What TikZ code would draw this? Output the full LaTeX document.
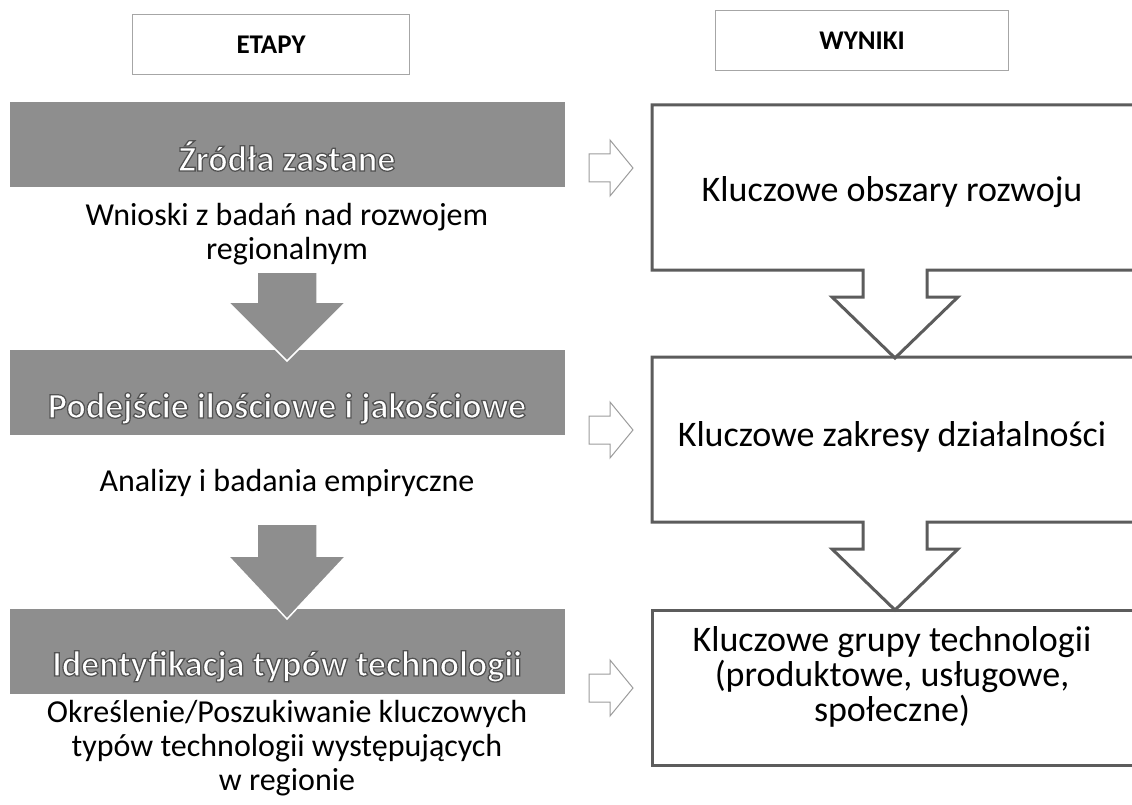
\documentclass[tikz,border=0pt]{standalone}
\usepackage{fontspec}
\setmainfont{Carlito}
\newfontfamily\titlefont{Carlito}[RawFeature={embolden=3.5}]
\newcommand{\outlined}[1]{\special{pdf:bcolor [1] [0.32]}#1\special{pdf:ecolor}}
\definecolor{bargray}{HTML}{8E8E8E}
\definecolor{boxline}{HTML}{5C5C5C}
\definecolor{hdrline}{HTML}{A6A6A6}
\definecolor{arrline}{HTML}{9C9C9C}
\begin{document}
\begin{tikzpicture}[x=1pt,y=-1pt,
  hdr/.style={draw=hdrline, line width=1pt, minimum width=#1, minimum height=60pt,
    font=\bfseries\fontsize{27}{30}\selectfont, inner sep=0pt},
  bar/.style={fill=bargray, minimum width=555pt, minimum height=85pt, inner sep=0pt, anchor=north west},
  bartitle/.style={font=\titlefont\bfseries\fontsize{36}{44}\selectfont, text=white, anchor=base, inner sep=0pt},
  sub/.style={font=\fontsize{32}{34}\selectfont, align=center, inner sep=0pt},
  res/.style={font=\fontsize{36}{35}\selectfont, align=center, inner sep=0pt},
  downarr/.style={fill=bargray, draw=white, line width=1.5pt},
  resbox/.style={draw=boxline, line width=3pt, line join=miter},
  rarr/.pic={\draw[arrline, line width=1pt, fill=white]
    (-21,-14) -- (0,-14) -- (0,-28) -- (23,0) -- (0,28) -- (0,14) -- (-21,14) -- cycle;}
]
\useasboundingbox (0,0) rectangle (1132,805);
\clip (0,0) rectangle (1132,805);
\fill[white] (0,0) rectangle (1132,805);

% headers
\node[hdr=277pt] (etapy) at (271,45) {ETAPY};
\node[hdr=293pt] (wyniki) at (862,41) {WYNIKI};

% left column: stages
\node[bar] (bar1) at (10,102) {};
\node[bartitle] (t1) at (287,171) {\outlined{Źródła zastane}};
\node[sub] (s1) at (287,234) {Wnioski z badań nad rozwojem\\regionalnym};

\node[bar] (bar2) at (10,350) {};
\node[bartitle] (t2) at (287,418) {\outlined{Podejście ilościowe i jakościowe}};
\node[sub] (s2) at (287,483) {Analizy i badania empiryczne};

\node[bar] (bar3) at (10,609) {};
\node[bartitle] (t3) at (287,676) {\outlined{Identyfikacja typów technologii}};
\node[sub] (s3) at (287,748) {Określenie/Poszukiwanie kluczowych\\typów technologii występujących\\w regionie};

% down arrows between stages
\draw[downarr] (257,272) -- (317,272) -- (317,302) -- (346,302) -- (287,361)
  -- (228,302) -- (257,302) -- cycle;
\draw[downarr] (257,524) -- (317,524) -- (317,556) -- (346,556) -- (287,619)
  -- (228,556) -- (257,556) -- cycle;

% right column: results
\draw[resbox] (652,105) -- (1145,105) -- (1145,270) -- (927,270) -- (927,297)
  -- (958,297) -- (895,358) -- (832,297) -- (863,297) -- (863,270) -- (652,270) -- cycle;
\draw[resbox] (652,357) -- (1145,357) -- (1145,522) -- (927,522) -- (927,549)
  -- (958,549) -- (895,610) -- (832,549) -- (863,549) -- (863,522) -- (652,522) -- cycle;
\draw[resbox] (652,610) rectangle (1145,765);

\node[res] (r1) at (892,192) {Kluczowe obszary rozwoju};
\node[res] (r2) at (892,437) {Kluczowe zakresy działalności};
\node[res] (r3) at (892,677) {Kluczowe grupy technologii\\(produktowe, usługowe,\\społeczne)};

% arrows from stages to results
\pic at (610,168) {rarr};
\pic at (610,430) {rarr};
\pic at (610,688) {rarr};
\end{tikzpicture}
\end{document}
